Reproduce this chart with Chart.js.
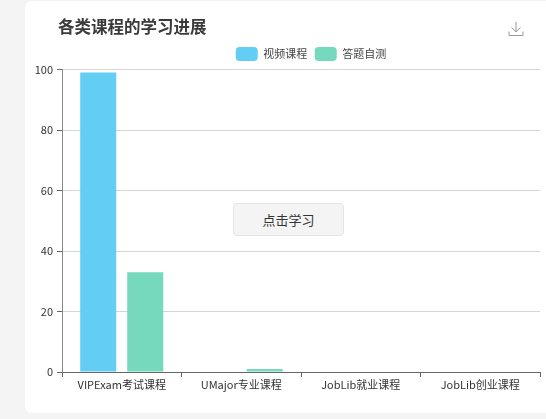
<!DOCTYPE html>
<html>
<head>
<meta charset="utf-8">
<script src="https://cdn.jsdelivr.net/npm/chart.js@4/dist/chart.umd.min.js"></script>
<style>
html,body{margin:0;padding:0;width:546px;height:419px;overflow:hidden;background:#f4f4f4;font-family:"Noto Sans CJK SC","Noto Sans",sans-serif;}
#card{position:absolute;left:25px;top:1px;width:530px;height:412px;background:#fff;border-radius:7px;}
#box{position:absolute;left:0;top:0;width:546px;height:419px;}
#title{position:absolute;left:58px;top:14px;font-size:16.5px;line-height:24px;font-weight:700;color:#3a3a3a;}
#btn{position:absolute;left:233px;top:203px;width:111px;height:33px;box-sizing:border-box;background:#f4f4f4;border:1px solid #e4e4e4;border-radius:4px;font:13px/31px "Noto Sans CJK SC",sans-serif;color:#333;text-align:center;}
#dl{position:absolute;left:508px;top:21px;}
</style>
</head>
<body>
<div id="card"></div>
<div id="box"><canvas id="mainChart" width="546" height="419"></canvas></div>
<div id="title">各类课程的学习进展</div>
<svg id="dl" width="16" height="16" viewBox="0 0 16 16" fill="none" stroke="#999" stroke-width="1">
<path d="M8 1V11M3.5 6.5L8 11L12.500 6.500M1 10.500V14.500H15V10.500"/>
</svg>
<div id="btn">点击学习</div>
<script>
// ================= DATA =================
let categories = ["VIPExam考试课程","UMajor专业课程","JobLib就业课程","JobLib创业课程"]
let videoValues = [99,0,0,0]
let quizValues = [33,1,0,0]
let seriesNames = ["视频课程","答题自测"]
let yTicks = [0,20,40,60,80,100]

let fontFamily = '"Noto Sans CJK SC","Noto Sans",sans-serif'

// legend sits right of the plot centre in the original
let shiftLegend = {
id:"shiftLegend",
afterLayout(chart){
chart.legend.left += 41
chart.legend.right += 41
chart.legend.top += 1.5
chart.legend.bottom += 1.5
}
}

// ================= DRAW =================
new Chart(document.getElementById("mainChart"),{
type:"bar",
data:{
labels:categories,
datasets:[
{label:seriesNames[0],data:videoValues,backgroundColor:"#63cdf4"},
{label:seriesNames[1],data:quizValues,backgroundColor:"#76d8bd"}
]
},
plugins:[shiftLegend],
options:{
responsive:false,
animation:false,
categoryPercentage:0.787,
barPercentage:0.766,
layout:{padding:{left:0,right:6,top:38,bottom:26.8}},
plugins:{
legend:{
position:"top",
labels:{
boxWidth:22,
boxHeight:14,
padding:7.5,
useBorderRadius:true,
borderRadius:4,
color:"#444",
font:{family:fontFamily,size:11}
}
},
tooltip:{enabled:false}
},
scales:{
x:{
grid:{drawOnChartArea:false,drawTicks:true,tickLength:5,tickColor:"#666"},
border:{color:"#666"},
ticks:{color:"#333",font:{family:fontFamily,size:11},maxRotation:0,padding:1}
},
y:{
min:0,
max:100,
afterFit(scale){scale.width = 62},
afterBuildTicks(scale){scale.ticks = yTicks.map(v=>({value:v}))},
grid:{color:"#d4d4d4",tickLength:5,tickColor:"#666"},
border:{color:"#888"},
ticks:{color:"#333",font:{family:fontFamily,size:11},padding:4}
}
}
}
})
</script>
</body>
</html>
